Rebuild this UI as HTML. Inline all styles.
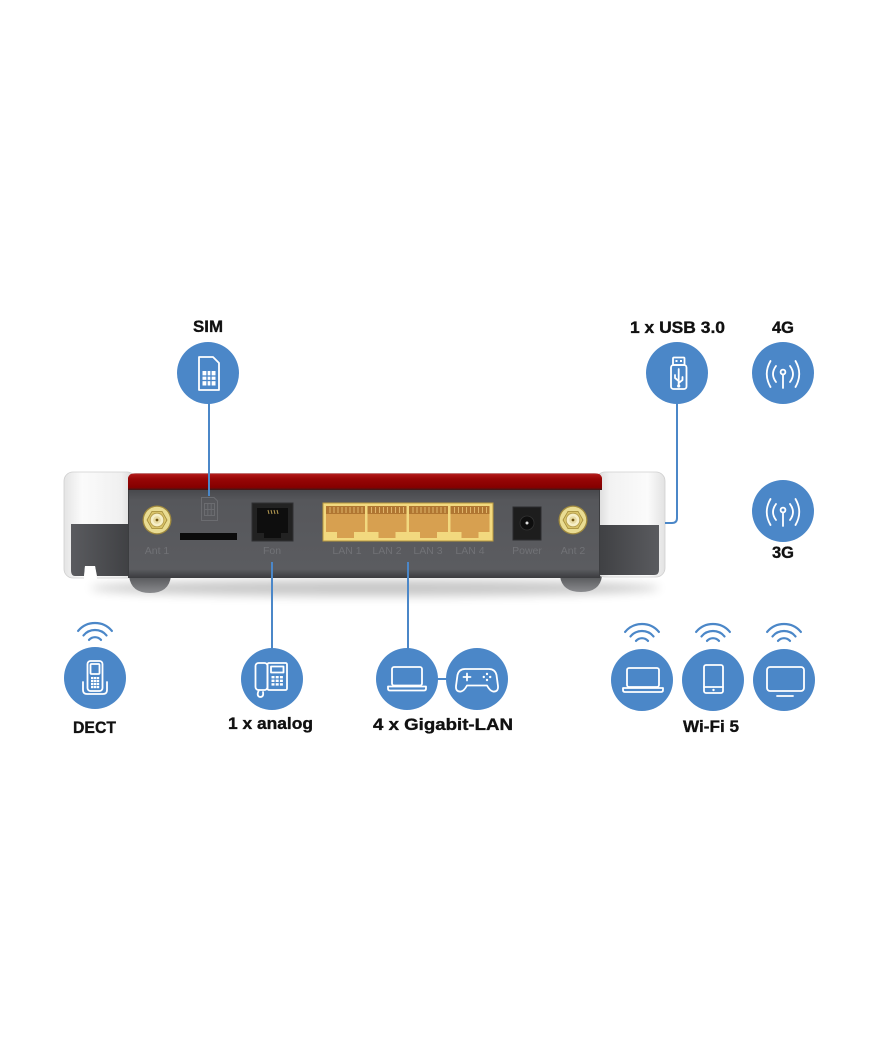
<!DOCTYPE html>
<html><head><meta charset="utf-8">
<style>
html,body{margin:0;padding:0;background:#fff;}
svg{display:block;}
.lbl{font-family:"Liberation Sans",sans-serif;font-weight:bold;font-size:16.5px;fill:#111;stroke:#111;stroke-width:0.35px;}
.plbl{font-family:"Liberation Sans",sans-serif;font-size:10.5px;fill:#717276;}
.ic{fill:none;stroke:#fff;stroke-width:1.8;stroke-linejoin:round;stroke-linecap:round;}
.wf{fill:none;stroke:#4b87c8;stroke-width:2.2;stroke-linecap:round;}
</style></head>
<body>
<svg width="880" height="1056" viewBox="0 0 880 1056" xmlns="http://www.w3.org/2000/svg">
<defs>
  <linearGradient id="capW" x1="0" y1="0" x2="1" y2="0">
    <stop offset="0" stop-color="#e4e4e4"/>
    <stop offset="0.25" stop-color="#fbfbfb"/>
    <stop offset="0.8" stop-color="#f0f0f0"/>
    <stop offset="1" stop-color="#d4d4d4"/>
  </linearGradient>
  <linearGradient id="capWR" x1="0" y1="0" x2="1" y2="0">
    <stop offset="0" stop-color="#d8d8d8"/>
    <stop offset="0.2" stop-color="#f2f2f2"/>
    <stop offset="0.75" stop-color="#fbfbfb"/>
    <stop offset="1" stop-color="#e2e2e2"/>
  </linearGradient>
  <linearGradient id="capD" x1="0" y1="0" x2="1" y2="0">
    <stop offset="0" stop-color="#5a5b5f"/>
    <stop offset="1" stop-color="#3f4043"/>
  </linearGradient>
  <linearGradient id="capDR" x1="0" y1="0" x2="1" y2="0">
    <stop offset="0" stop-color="#3f4043"/>
    <stop offset="1" stop-color="#5a5b5f"/>
  </linearGradient>
  <linearGradient id="red" x1="0" y1="0" x2="0" y2="1">
    <stop offset="0" stop-color="#c9a9a9"/>
    <stop offset="0.08" stop-color="#b01616"/>
    <stop offset="0.35" stop-color="#980606"/>
    <stop offset="0.85" stop-color="#850000"/>
    <stop offset="1" stop-color="#3a1a1a"/>
  </linearGradient>
  <linearGradient id="panel" x1="0" y1="0" x2="0" y2="1">
    <stop offset="0" stop-color="#48494d"/>
    <stop offset="0.12" stop-color="#56575b"/>
    <stop offset="0.9" stop-color="#5b5c60"/>
    <stop offset="1" stop-color="#3a3b3e"/>
  </linearGradient>
  <linearGradient id="foot" x1="0" y1="0" x2="0" y2="1">
    <stop offset="0" stop-color="#555659"/>
    <stop offset="1" stop-color="#8a8b8e"/>
  </linearGradient>
  <filter id="blur" x="-20%" y="-200%" width="140%" height="500%">
    <feGaussianBlur stdDeviation="5"/>
  </filter>
</defs>

<!-- shadow -->
<ellipse cx="375" cy="588" rx="285" ry="8" fill="#000" opacity="0.22" filter="url(#blur)"/>

<!-- feet -->
<path d="M129 576 L171 576 Q169 593 150 593 Q131 593 129 576 Z" fill="url(#foot)"/>
<path d="M560 576 L602 576 Q600 592 581 592 Q562 592 560 576 Z" fill="url(#foot)"/>

<!-- left cap -->
<rect x="64" y="472" width="72" height="106" rx="9" fill="url(#capW)" stroke="#cfcfcf" stroke-width="0.8"/>
<path d="M71 524 L131 524 L131 576 L97 576 L95 566 L85 566 L84 576 L75 576 Q71 576 71 570 Z" fill="url(#capD)"/>
<path d="M85 566 L95 566 L97 578.5 L84 578.5 Z" fill="#fff"/>

<!-- right cap -->
<rect x="596" y="472" width="69" height="105" rx="9" fill="url(#capWR)" stroke="#cfcfcf" stroke-width="0.8"/>
<path d="M598 525 L659 525 L659 570 Q659 575 654 575 L598 575 Z" fill="url(#capDR)"/>

<!-- red band -->
<path d="M128 478 Q129 473 136 473 L594 473 Q601 473 602 478 L602 490 L128 490 Z" fill="url(#red)"/>
<!-- panel -->
<rect x="128" y="490" width="472" height="88" fill="url(#panel)"/>
<line x1="128.5" y1="490" x2="128.5" y2="578" stroke="#3c3d40" stroke-width="1"/>
<line x1="599.5" y1="490" x2="599.5" y2="578" stroke="#3c3d40" stroke-width="1"/>

<!-- Ant 1 -->
<g transform="translate(157,520)">
  <circle r="14.5" fill="#a08a3e"/>
  <circle r="13.2" fill="#e9dc92"/>
  <polygon points="10,0 5,8.66 -5,8.66 -10,0 -5,-8.66 5,-8.66" fill="#d9c46a" stroke="#a38b3a" stroke-width="0.8"/>
  <circle r="6.8" fill="#f6efc8" stroke="#b39b4a" stroke-width="0.8"/>
  <circle r="3.8" fill="#e8dba4"/>
  <circle r="1.4" fill="#6f5410"/>
</g>
<!-- Ant 2 -->
<g transform="translate(573,520)">
  <circle r="14.5" fill="#a08a3e"/>
  <circle r="13.2" fill="#e9dc92"/>
  <polygon points="10,0 5,8.66 -5,8.66 -10,0 -5,-8.66 5,-8.66" fill="#d9c46a" stroke="#a38b3a" stroke-width="0.8"/>
  <circle r="6.8" fill="#f6efc8" stroke="#b39b4a" stroke-width="0.8"/>
  <circle r="3.8" fill="#e8dba4"/>
  <circle r="1.4" fill="#6f5410"/>
</g>

<!-- faint SIM icon on panel -->
<g fill="none" stroke="#6b6c70" stroke-width="1">
  <path d="M201.5 497.5 L214 497.5 L217.5 501 L217.5 520.5 L201.5 520.5 Z"/>
  <rect x="204.5" y="503.5" width="10" height="12"/>
  <line x1="207.8" y1="503.5" x2="207.8" y2="515.5"/>
  <line x1="211.2" y1="503.5" x2="211.2" y2="515.5"/>
  <line x1="204.5" y1="509.5" x2="214.5" y2="509.5"/>
</g>
<!-- SIM slot -->
<rect x="180" y="533" width="57" height="7" fill="#0b0b0b"/>

<!-- Fon port -->
<rect x="252" y="503" width="41" height="38" fill="#222" stroke="#303033" stroke-width="1"/>
<path d="M257 508 L288 508 L288 533 L281 533 L281 538 L264 538 L264 533 L257 533 Z" fill="#0e0e0e"/>
<g stroke="#b49a52" stroke-width="1">
  <line x1="268" y1="510" x2="269" y2="514"/>
  <line x1="271" y1="510" x2="272" y2="514"/>
  <line x1="274" y1="510" x2="275" y2="514"/>
  <line x1="277" y1="510" x2="278" y2="514"/>
</g>

<!-- LAN block -->
<rect x="323" y="503" width="170" height="38" fill="#f2d97f" stroke="#b8983e" stroke-width="1"/>
<g>
  <rect x="326" y="506" width="39" height="8" fill="#b07632"/>
  <rect x="326" y="514" width="39" height="18" fill="#d7a050"/>
  <rect x="337" y="532" width="17" height="6" fill="#d7a050"/>
  <rect x="367.5" y="506" width="39" height="8" fill="#b07632"/>
  <rect x="367.5" y="514" width="39" height="18" fill="#d7a050"/>
  <rect x="378.5" y="532" width="17" height="6" fill="#d7a050"/>
  <rect x="409" y="506" width="39" height="8" fill="#b07632"/>
  <rect x="409" y="514" width="39" height="18" fill="#d7a050"/>
  <rect x="420" y="532" width="17" height="6" fill="#d7a050"/>
  <rect x="450.5" y="506" width="39" height="8" fill="#b07632"/>
  <rect x="450.5" y="514" width="39" height="18" fill="#d7a050"/>
  <rect x="461.5" y="532" width="17" height="6" fill="#d7a050"/>
</g>
<g stroke="#e0b56a" stroke-width="1">
  <path d="M330 507v6M334 507v6M338 507v6M342 507v6M346 507v6M350 507v6M354 507v6M358 507v6M362 507v6"/>
  <path d="M371.5 507v6M375.5 507v6M379.5 507v6M383.5 507v6M387.5 507v6M391.5 507v6M395.5 507v6M399.5 507v6M403.5 507v6"/>
  <path d="M413 507v6M417 507v6M421 507v6M425 507v6M429 507v6M433 507v6M437 507v6M441 507v6M445 507v6"/>
  <path d="M454.5 507v6M458.5 507v6M462.5 507v6M466.5 507v6M470.5 507v6M474.5 507v6M478.5 507v6M482.5 507v6M486.5 507v6"/>
</g>

<!-- Power -->
<rect x="513" y="507" width="28" height="33" fill="#1d1d1d" stroke="#2c2c2e" stroke-width="1"/>
<circle cx="527" cy="523" r="7" fill="#0e0e0e" stroke="#333" stroke-width="0.8"/>
<circle cx="527" cy="523" r="1.5" fill="#ddd"/>

<!-- panel labels -->
<g class="plbl" text-anchor="middle">
  <text x="157" y="554">Ant 1</text>
  <text x="272" y="554">Fon</text>
  <text x="347" y="554">LAN 1</text>
  <text x="387" y="554">LAN 2</text>
  <text x="428" y="554">LAN 3</text>
  <text x="470" y="554">LAN 4</text>
  <text x="527" y="554">Power</text>
  <text x="573" y="554">Ant 2</text>
</g>

<!-- connector lines -->
<g fill="none" stroke="#4b87c8" stroke-width="2">
  <line x1="209" y1="400" x2="209" y2="496"/>
  <line x1="272" y1="562" x2="272" y2="652"/>
  <line x1="408" y1="562" x2="408" y2="652"/>
  <line x1="436" y1="679" x2="449" y2="679"/>
  <path d="M677 400 L677 518 Q677 523 672 523 L665 523"/>
</g>

<!-- circles -->
<g fill="#4b87c8">
  <circle cx="208" cy="373" r="31"/>
  <circle cx="677" cy="373" r="31"/>
  <circle cx="783" cy="373" r="31"/>
  <circle cx="783" cy="511" r="31"/>
  <circle cx="95" cy="678" r="31"/>
  <circle cx="272" cy="679" r="31"/>
  <circle cx="407" cy="679" r="31"/>
  <circle cx="477" cy="679" r="31"/>
  <circle cx="642" cy="680" r="31"/>
  <circle cx="713" cy="680" r="31"/>
  <circle cx="784" cy="680" r="31"/>
</g>

<!-- SIM icon -->
<path class="ic" d="M199 357 L213 357 L219 363 L219 390 L199 390 Z"/>
<rect x="202.5" y="371" width="13" height="14.5" fill="#fff"/>
<g stroke="#4b87c8" stroke-width="1.3">
  <line x1="207" y1="371" x2="207" y2="385.5"/>
  <line x1="211" y1="371" x2="211" y2="385.5"/>
  <line x1="202.5" y1="376" x2="215.5" y2="376"/>
  <line x1="202.5" y1="380.5" x2="215.5" y2="380.5"/>
</g>

<!-- USB icon -->
<g class="ic" stroke-width="1.6">
  <rect x="673" y="357.5" width="11.5" height="7.5" rx="1"/>
  <rect x="671" y="365" width="15.5" height="24" rx="2.5"/>
  <line x1="678.7" y1="369" x2="678.7" y2="385"/>
  <path d="M678.7 381 L675 378 L675 375"/>
  <path d="M678.7 383 L682.5 380 L682.5 377"/>
</g>
<rect x="675.5" y="360" width="2" height="2" fill="#fff"/>
<rect x="680" y="360" width="2" height="2" fill="#fff"/>
<circle cx="678.7" cy="386" r="1.6" fill="#fff"/>

<!-- antenna icons -->
<g class="ic" stroke-width="1.8">
  <circle cx="783" cy="372" r="2.4"/>
  <line x1="783" y1="374.4" x2="783" y2="388"/>
  <path d="M776 366 Q770 374 776 382"/>
  <path d="M790 366 Q796 374 790 382"/>
  <path d="M770.5 361 Q763 374 770.5 387"/>
  <path d="M795.5 361 Q803 374 795.5 387"/>
</g>
<g class="ic" stroke-width="1.8" transform="translate(0,138)">
  <circle cx="783" cy="372" r="2.4"/>
  <line x1="783" y1="374.4" x2="783" y2="388"/>
  <path d="M776 366 Q770 374 776 382"/>
  <path d="M790 366 Q796 374 790 382"/>
  <path d="M770.5 361 Q763 374 770.5 387"/>
  <path d="M795.5 361 Q803 374 795.5 387"/>
</g>

<!-- DECT icon -->
<g class="ic" stroke-width="1.6">
  <path d="M83 682 L83 690 Q83 694 87 694 L103 694 Q107 694 107 690 L107 682"/>
  <rect x="87.5" y="661" width="15" height="30" rx="3"/>
  <rect x="90.5" y="664" width="9" height="10" rx="1"/>
</g>
<g fill="#fff">
  <rect x="91" y="677" width="2.4" height="2.2"/><rect x="93.9" y="677" width="2.4" height="2.2"/><rect x="96.8" y="677" width="2.4" height="2.2"/>
  <rect x="91" y="680" width="2.4" height="2.2"/><rect x="93.9" y="680" width="2.4" height="2.2"/><rect x="96.8" y="680" width="2.4" height="2.2"/>
  <rect x="91" y="683" width="2.4" height="2.2"/><rect x="93.9" y="683" width="2.4" height="2.2"/><rect x="96.8" y="683" width="2.4" height="2.2"/>
  <rect x="91" y="686" width="2.4" height="2.2"/><rect x="93.9" y="686" width="2.4" height="2.2"/><rect x="96.8" y="686" width="2.4" height="2.2"/>
</g>

<!-- analog phone icon -->
<g class="ic" stroke-width="1.6">
  <rect x="255.5" y="663" width="12" height="27" rx="3"/>
  <rect x="267.5" y="663" width="19.5" height="27" rx="1.5"/>
  <rect x="271" y="666.5" width="12.5" height="6"/>
  <path d="M259 690 Q256 696 260 697 Q264 697 263 692"/>
</g>
<g fill="#fff">
  <rect x="271.5" y="676" width="3" height="2.4"/><rect x="275.7" y="676" width="3" height="2.4"/><rect x="279.9" y="676" width="3" height="2.4"/>
  <rect x="271.5" y="679.6" width="3" height="2.4"/><rect x="275.7" y="679.6" width="3" height="2.4"/><rect x="279.9" y="679.6" width="3" height="2.4"/>
  <rect x="271.5" y="683.2" width="3" height="2.4"/><rect x="275.7" y="683.2" width="3" height="2.4"/><rect x="279.9" y="683.2" width="3" height="2.4"/>
</g>

<!-- LAN laptop -->
<g class="ic" stroke-width="1.6">
  <rect x="392" y="667" width="30" height="18.5" rx="2"/>
  <path d="M388 686.5 L426 686.5 L426 688.5 Q426 690.5 424 690.5 L390 690.5 Q388 690.5 388 688.5 Z"/>
</g>
<!-- gamepad -->
<g class="ic" stroke-width="1.6">
  <path d="M465 669 L489 669 Q495 669 496.5 675 L498 686 Q498.5 692 493 691.5 Q490 691 487 685.5 L467 685.5 Q464 691 461 691.5 Q455.5 692 456 686 L457.5 675 Q459 669 465 669 Z"/>
  <line x1="463.5" y1="677" x2="470.5" y2="677"/>
  <line x1="467" y1="673.5" x2="467" y2="680.5"/>
</g>
<g fill="#fff">
  <circle cx="487" cy="674" r="1.2"/><circle cx="490.2" cy="677" r="1.2"/>
  <circle cx="487" cy="680" r="1.2"/><circle cx="483.8" cy="677" r="1.2"/>
</g>

<!-- wifi laptop -->
<g class="ic" stroke-width="1.6">
  <rect x="627" y="668" width="32" height="19" rx="2"/>
  <path d="M623 688 L663 688 L663 690 Q663 692 661 692 L625 692 Q623 692 623 690 Z"/>
</g>
<!-- phone -->
<g class="ic" stroke-width="1.6">
  <rect x="704" y="665" width="19" height="28" rx="2"/>
  <line x1="704" y1="687" x2="723" y2="687"/>
</g>
<circle cx="713.5" cy="690" r="1.2" fill="#fff"/>
<!-- TV -->
<g class="ic" stroke-width="1.6">
  <rect x="767" y="667" width="37" height="24" rx="3"/>
  <line x1="777" y1="696" x2="793" y2="696"/>
</g>

<!-- wifi arcs -->
<g class="wf">
  <path d="M78.1 630.9 A22 22 0 0 1 111.9 630.9"/>
  <path d="M83.5 635.4 A15 15 0 0 1 106.5 635.4"/>
  <path d="M89 639.9 A8 8 0 0 1 101 639.9"/>

  <path d="M625.1 631.9 A22 22 0 0 1 658.9 631.9"/>
  <path d="M630.5 636.4 A15 15 0 0 1 653.5 636.4"/>
  <path d="M636 640.9 A8 8 0 0 1 648 640.9"/>

  <path d="M696.1 631.9 A22 22 0 0 1 729.9 631.9"/>
  <path d="M701.5 636.4 A15 15 0 0 1 724.5 636.4"/>
  <path d="M707 640.9 A8 8 0 0 1 719 640.9"/>

  <path d="M767.1 631.9 A22 22 0 0 1 800.9 631.9"/>
  <path d="M772.5 636.4 A15 15 0 0 1 795.5 636.4"/>
  <path d="M778 640.9 A8 8 0 0 1 790 640.9"/>
</g>

<!-- labels -->
<g class="lbl">
  <text x="193" y="332" textLength="30" lengthAdjust="spacingAndGlyphs">SIM</text>
  <text x="630" y="333" textLength="95" lengthAdjust="spacingAndGlyphs">1 x USB 3.0</text>
  <text x="772" y="333" textLength="22" lengthAdjust="spacingAndGlyphs">4G</text>
  <text x="772" y="558" textLength="22" lengthAdjust="spacingAndGlyphs">3G</text>
  <text x="73" y="733" textLength="43" lengthAdjust="spacingAndGlyphs">DECT</text>
  <text x="228" y="729" textLength="85" lengthAdjust="spacingAndGlyphs">1 x analog</text>
  <text x="373" y="730" textLength="140" lengthAdjust="spacingAndGlyphs">4 x Gigabit-LAN</text>
  <text x="683" y="732" textLength="56" lengthAdjust="spacingAndGlyphs">Wi-Fi 5</text>
</g>
</svg>
</body></html>
